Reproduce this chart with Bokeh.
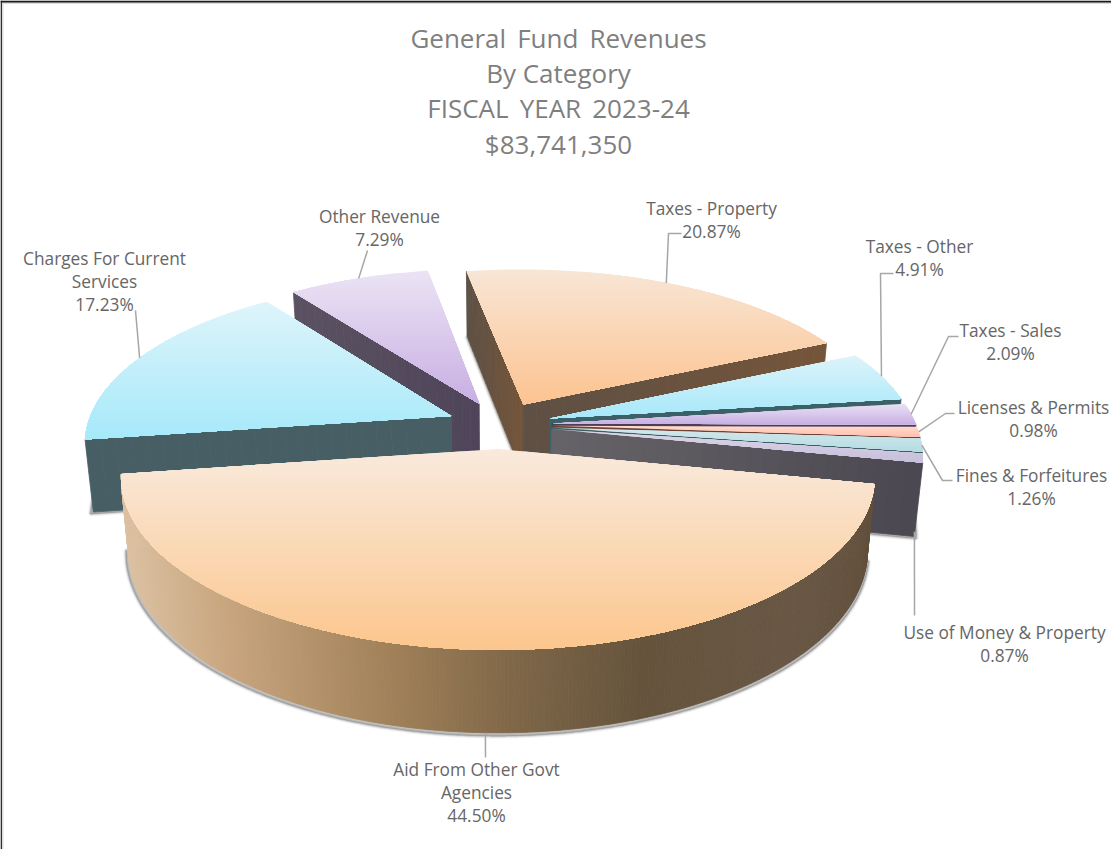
import math
from bokeh.plotting import figure
from bokeh.models import Range1d, ColumnDataSource
from bokeh.core.properties import value
from bokeh.embed import file_html
from bokeh.resources import INLINE

# ---- data ----
categories = ["Taxes - Property", "Taxes - Other", "Taxes - Sales", "Licenses & Permits",
              "Fines & Forfeitures", "Use of Money & Property", "Aid From Other Govt Agencies",
              "Charges For Current Services", "Other Revenue"]
shares = [20.87, 4.91, 2.09, 0.98, 1.26, 0.87, 44.50, 17.23, 7.29]
title_lines = ["General\u00a0\u2009Fund\u00a0\u2009Revenues", "By Category", "FISCAL\u00a0\u2009YEAR\u00a0\u20092023-24", "$83,741,350"]

# ---- styling ----
top_colors = [("#F8E6D6", "#FCC390"), ("#DDF3FA", "#A6E8FA"), ("#EAE2F4", "#C8AFE3"), ("#FFDCCF", "#FFBFAC"),
              ("#D3E8EC", "#B4DBE3"), ("#DDD8E8", "#C6BEDC"), ("#F9EADC", "#FCC68E"),
              ("#DFF4FA", "#A6E9FA"), ("#EBE4F5", "#C8AEE2")]
wall_colors = [("#5D5044", "#75553A"), ("#3B6168", "#3B6168"), ("#4A3F57", "#4A3F57"), ("#6E4236", "#6E4236"),
               ("#3F5F66", "#3F5F66"), ("#666468", "#4B4750"), ("#6A5844", "#6A5844"),
               ("#475F64", "#475F64"), ("#5A5262", "#4F4459")]
aid_rim_stops = [(128, "#DCC2A3"), (230, "#C9A67F"), (400, "#A08058"), (520, "#7F6748"),
                 (650, "#65533C"), (800, "#685744"), (882, "#62503C")]

CX, CY, RX, RY, K, DEPTH, BOTTOM_SCALE, EXPLODE, FIRST_ANGLE = 507, 432.5, 364, 161.8, 0.154, 72, 0.98, 0.145, -10.0
W, H = 1111, 849
TEXT_COLOR = "#666666"
LEADER_COLOR = "#A6A6A6"


def hex2rgb(c):
    return tuple(int(c[i:i + 2], 16) for i in (1, 3, 5))


def mix(a, b, t):
    t = max(0.0, min(1.0, t))
    ra, rb = hex2rgb(a), hex2rgb(b)
    return "#%02X%02X%02X" % tuple(round(x + (y - x) * t) for x, y in zip(ra, rb))


def stops_color(stops, x):
    if x <= stops[0][0]:
        return stops[0][1]
    for (x0, c0), (x1, c1) in zip(stops, stops[1:]):
        if x <= x1:
            return mix(c0, c1, (x - x0) / (x1 - x0))
    return stops[-1][1]


def project(u, v, bottom=False):
    s = 1 / (1 - K * v)
    x, y = RX * u * s, RY * v * s
    if bottom:
        return CX + BOTTOM_SCALE * x, CY + BOTTOM_SCALE * y + DEPTH * s
    return CX + x, CY + y


def plane(theta, mid, r=1.0):
    t, m = math.radians(theta), math.radians(mid)
    return (EXPLODE * math.sin(m) + r * math.sin(t), -EXPLODE * math.cos(m) - r * math.cos(t))


def area(q):
    return sum(q[i][0] * q[(i + 1) % len(q)][1] - q[(i + 1) % len(q)][0] * q[i][1] for i in range(len(q)))


def clip_below(poly, yc):
    out = []
    for i, a in enumerate(poly):
        b = poly[(i + 1) % len(poly)]
        if a[1] >= yc:
            out.append(a)
        if (a[1] >= yc) != (b[1] >= yc):
            out.append((a[0] + (b[0] - a[0]) * (yc - a[1]) / (b[1] - a[1]), yc))
    return out


xs, ys, fills, lines, fa, la, lw = [], [], [], [], [], [], []


def add(poly, fill, line=None, falpha=1.0, lalpha=1.0, width=0.8):
    xs.append([a[0] for a in poly])
    ys.append([a[1] for a in poly])
    fills.append(fill)
    lines.append(line or fill)
    fa.append(falpha)
    la.append(lalpha)
    lw.append(width)


# angular extents come from the values
extents, a = [], FIRST_ANGLE
for sh in shares:
    b = a + sh * 3.6
    extents.append((a, b, (a + b) / 2))
    a = b

paint_order = [8, 0, 1, 2, 3, 4, 5, 7, 6]

for i in paint_order:
    a0, a1, mid = extents[i]
    n = max(3, int((a1 - a0) / 0.5))
    rim = [plane(a0 + (a1 - a0) * j / n, mid) for j in range(n + 1)]
    apex = plane(0, mid, 0)
    # soft shadow beneath the slice
    bot = [project(*apex, bottom=True)] + [project(*r, bottom=True) for r in rim]
    sh = [(CX + (x - CX) * 1.006 - 0.5, CY + (y - CY) * 1.006 + 1.5) for x, y in bot]
    for width, al in [(5, 0.06), (3, 0.12), (1.5, 0.2)]:
        add(sh, "#505050", "#505050", al, al, width)
    # walls
    faces = []
    m = 24
    wl, wr = wall_colors[i]

    def radial(pa, pb, outer):
        xa, xb = project(*apex)[0], project(*outer)[0]
        lo, hi = min(xa, xb), max(xa, xb)
        for j in range(m):
            t0, t1 = j / m, (j + 1) / m
            p0 = (pa[0] + (pb[0] - pa[0]) * t0, pa[1] + (pb[1] - pa[1]) * t0)
            p1 = (pa[0] + (pb[0] - pa[0]) * t1, pa[1] + (pb[1] - pa[1]) * t1)
            q = [project(*p0), project(*p1), project(*p1, bottom=True), project(*p0, bottom=True)]
            if area(q) < 0:
                xm = (q[0][0] + q[1][0]) / 2
                faces.append((q, mix(wl, wr, (xm - lo) / max(hi - lo, 1))))

    radial(apex, rim[0], rim[0])
    for j in range(n):
        q = [project(*rim[j]), project(*rim[j + 1]), project(*rim[j + 1], bottom=True), project(*rim[j], bottom=True)]
        if area(q) < 0:
            xm = (q[0][0] + q[1][0]) / 2
            faces.append((q, stops_color(aid_rim_stops, xm) if i == 6 else mix(wl, wr, 0.5)))
    radial(rim[-1], apex, rim[-1])
    for q, c in faces:
        add(q, c)
    # top face: overlapping pieces make a seamless vertical gradient
    poly = [project(*apex)] + [project(*r) for r in rim]
    ymin, ymax = min(p[1] for p in poly), max(p[1] for p in poly)
    bands = max(1, int((ymax - ymin) / 2.5))
    c0, c1 = top_colors[i]
    for j in range(bands):
        y0 = ymin + (ymax - ymin) * j / bands
        piece = poly if j == 0 else clip_below(poly, y0)
        if len(piece) >= 3:
            add(piece, mix(c0, c1, (j + 0.5) / bands), lalpha=0.0, width=0)

p = figure(width=W, height=H, x_range=Range1d(8, 8 + W), y_range=Range1d(8 + H, 8),
           output_backend="svg", toolbar_location=None, min_border=0, background_fill_color="white",
           outline_line_color=None)
p.axis.visible = False
p.grid.visible = False

# picture frame
p.patches([[8, 11, 11, 8], [8, 8 + W, 8 + W, 8]], [[8, 8, 8 + H, 8 + H], [8, 8, 11.5, 11.5]],
          fill_color="#DDDDDD", line_color=None)
p.patches([[8, 9.4, 9.4, 8], [8, 8 + W, 8 + W, 8]], [[8, 8, 8 + H, 8 + H], [8, 8, 10, 10]],
          fill_color="#1A1A1A", line_color=None)

src = ColumnDataSource(dict(xs=xs, ys=ys, f=fills, l=lines, fa=fa, la=la, lw=lw))
p.patches("xs", "ys", source=src, fill_color="f", line_color="l", fill_alpha="fa", line_alpha="la", line_width="lw")

# leaders: anchored on the slice's rim, then routed through an elbow
bottom_anchor = {5, 6}
elbows = {0: [(676, 241), (689, 241)], 1: [(888, 281), (901, 281)], 2: [(956, 344), (966, 344)],
          3: [(953, 421), (962, 421)], 4: [(950, 488), (960, 488)], 5: [(922, 623)],
          6: [(493, 765)], 7: [(143, 318)], 8: [(375, 258)]}
lx, ly = [], []
for i, (a0, a1, mid) in enumerate(extents):
    anchor = project(*plane(mid, mid), bottom=i in bottom_anchor)
    pts = [anchor] + elbows[i]
    lx.append([q[0] for q in pts])
    ly.append([q[1] for q in pts])
p.multi_line(lx, ly, line_color=LEADER_COLOR, line_width=1.5)

# texts
label_lines = [["Taxes - Property"], ["Taxes - Other"], ["Taxes - Sales"], ["Licenses & Permits"],
               ["Fines & Forfeitures"], ["Use of Money & Property"], ["Aid From Other Govt", "Agencies"],
               ["Charges For Current", "Services"], ["Other Revenue"]]
label_pos = [(719, 216), (927, 254), (1018, 338), (1041, 415), (1039, 483), (1012, 640), (484, 777), (112, 266), (387, 224)]
tx, ty, tt = [], [], []
for i, (cx, cy) in enumerate(label_pos):
    rows = label_lines[i] + ["%.2f%%" % shares[i]]
    for r, row in enumerate(rows):
        tx.append(cx)
        ty.append(cy + r * 23)
        tt.append(row)
p.text(tx, ty, text=tt, text_font=value("Open Sans"), text_font_size="17.3px", text_color=TEXT_COLOR,
       text_align="center", text_baseline="middle")
p.text([566] * 4, [45, 80, 115, 151], text=title_lines, text_font=value("Open Sans"), text_font_size="26px",
       text_color="#7F7F7F", text_align="center", text_baseline="middle")

open("out.html", "w").write(file_html(p, INLINE))
